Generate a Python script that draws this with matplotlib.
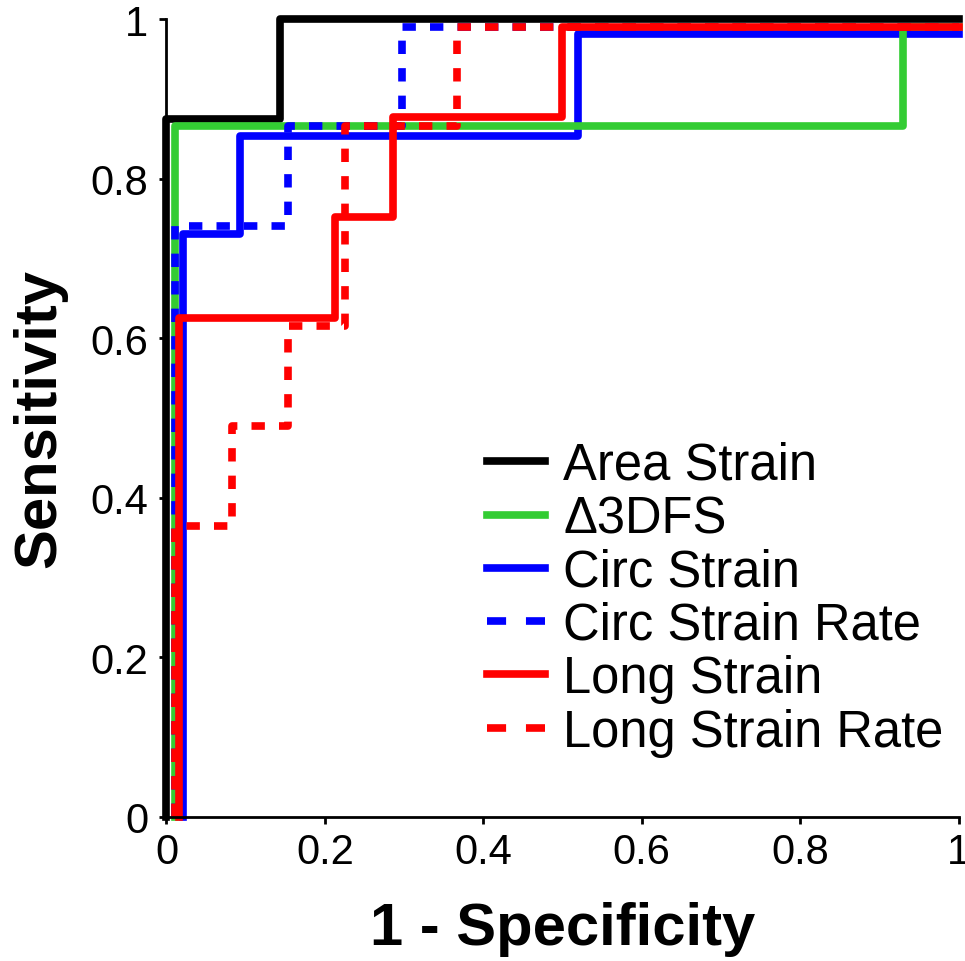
import matplotlib
matplotlib.use("Agg")
import matplotlib.pyplot as plt
from matplotlib.lines import Line2D

plt.rcParams['font.family'] = ['Liberation Sans', 'DejaVu Sans']

# ROC curve vertices (1 - Specificity, Sensitivity)
area_x = [0.0, 0.0, 0.143, 0.143, 1.0]
area_y = [0.0, 0.875, 0.875, 1.0, 1.0]

dfs_x = [0.011, 0.011, 0.93, 0.93, 1.0]
dfs_y = [0.0, 0.866, 0.866, 0.99, 0.99]

circ_x = [0.021, 0.021, 0.093, 0.093, 0.52, 0.52, 1.0]
circ_y = [0.0, 0.73, 0.73, 0.853, 0.853, 0.981, 0.981]

circr_x = [0.011, 0.011, 0.153, 0.153, 0.297, 0.297, 1.0]
circr_y = [0.0, 0.74, 0.74, 0.866, 0.866, 0.99, 0.99]

long_x = [0.016, 0.016, 0.213, 0.213, 0.286, 0.286, 0.499, 0.499, 1.0]
long_y = [0.0, 0.625, 0.625, 0.752, 0.752, 0.877, 0.877, 0.99, 0.99]

longr_x = [0.011, 0.011, 0.083, 0.083, 0.153, 0.153, 0.225, 0.225, 0.367, 0.367, 1.0]
longr_y = [0.0, 0.365, 0.365, 0.49, 0.49, 0.615, 0.615, 0.866, 0.866, 0.99, 0.99]

labels = ["Area Strain", "\u03943DFS", "Circ Strain", "Circ Strain Rate",
          "Long Strain", "Long Strain Rate"]
ticks = [0, 0.2, 0.4, 0.6, 0.8, 1.0]
tick_labels = ["0", "0.2", "0.4", "0.6", "0.8", "1"]

GREEN = "#33CC33"
LW = 5.5
DASH = (1.75, 1.85)

fig = plt.figure(figsize=(9.65, 9.62), dpi=100)
ax = fig.add_axes([0.1725, 0.1497, 0.8208, 0.8295])

styles = [
    (area_x, area_y, "black", "-"),
    (circ_x, circ_y, "#0000FF", "-"),
    (dfs_x, dfs_y, GREEN, "-"),
    (circr_x, circr_y, "#0000FF", "--"),
    (long_x, long_y, "#FF0000", "-"),
    (longr_x, longr_y, "#FF0000", "--"),
]
for xs, ys, c, ls in styles:
    ln, = ax.plot(xs, ys, color=c, lw=LW, clip_on=False, solid_joinstyle='round')
    if ls == "--":
        ln.set_dashes(DASH)
        ln.set_dash_capstyle('butt')

ax.set_xlim(0, 1)
ax.set_ylim(0, 1)
ax.set_xticks(ticks)
ax.set_xticklabels(tick_labels)
ax.set_yticks(ticks)
ax.set_yticklabels(tick_labels)
for s in ["top", "right"]:
    ax.spines[s].set_visible(False)
for s in ["left", "bottom"]:
    ax.spines[s].set_linewidth(2)
ax.tick_params(axis='both', direction='out', length=5, width=2, labelsize=30)
ax.tick_params(axis='x', pad=6)
ax.tick_params(axis='y', pad=8)

ax.set_xlabel("1 - Specificity", fontsize=43, fontweight='bold', labelpad=21)
ax.set_ylabel("Sensitivity", fontsize=43, fontweight='bold', labelpad=17)

leg_cols = ["black", GREEN, "#0000FF", "#0000FF", "#FF0000", "#FF0000"]
leg_ls = ["-", "-", "-", "--", "-", "--"]
handles = []
for c, ls in zip(leg_cols, leg_ls):
    h = Line2D([0], [0], color=c, lw=LW)
    if ls == "--":
        h.set_dashes((2.5, 2.6))
        h.set_dash_capstyle('butt')
    handles.append(h)
fig.legend(handles, labels, loc='upper left', bbox_to_anchor=(487 / 965, 1 - 442 / 962),
           frameon=False, fontsize=36.5, handlelength=1.15, handletextpad=0.35,
           labelspacing=0.085, borderpad=0, borderaxespad=0)

fig.savefig("out.png", dpi=100, facecolor="white")
